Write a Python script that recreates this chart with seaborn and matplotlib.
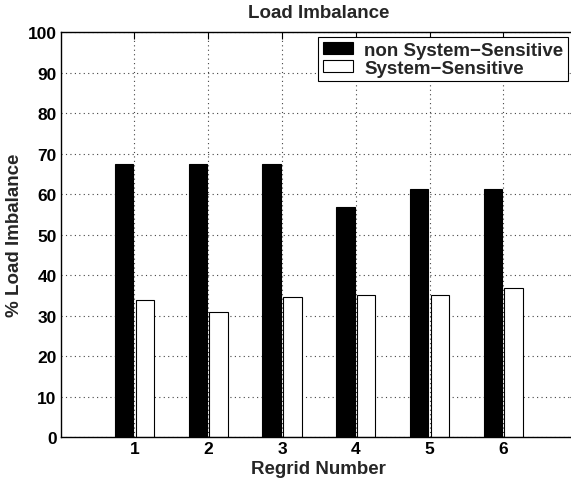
import matplotlib
matplotlib.use("Agg")
import matplotlib.pyplot as plt
import pandas as pd
import seaborn as sns

# values
regrids = [1, 2, 3, 4, 5, 6]
non_sensitive = [67.4, 67.4, 67.4, 56.9, 61.2, 61.2]
sensitive = [33.8, 30.8, 34.6, 35.0, 35.1, 36.8]
series_names = ["non System\u2212Sensitive", "System\u2212Sensitive"]
y_ticks = list(range(0, 101, 10))

df = pd.DataFrame({
    "regrid": regrids * 2,
    "imbalance": non_sensitive + sensitive,
    "scheme": [series_names[0]] * len(regrids) + [series_names[1]] * len(regrids),
})

sns.set_style("white")
plt.rcParams["font.family"] = ["Liberation Sans", "DejaVu Sans"]
plt.rcParams["font.weight"] = "bold"

fs = 13.5
fig = plt.figure(figsize=(5.71, 4.89), dpi=100)
ax = fig.add_axes([0.1063, 0.1043, 0.9045, 0.8276])

sns.barplot(data=df, x="regrid", y="imbalance", hue="scheme",
            palette=["black", "white"], native_scale=True,
            width=0.56, gap=0.107, edgecolor="black", linewidth=0.8,
            errorbar=None, ax=ax)

ax.set_xlim(0, 7)
ax.set_ylim(0, 100)
ax.set_xticks(regrids)
ax.set_yticks(y_ticks)
ax.grid(True, linestyle=(0, (1, 3)), color="#444444", linewidth=0.8)
ax.set_axisbelow(True)
for s in ax.spines.values():
    s.set_color("black")
    s.set_linewidth(1.0)
ax.tick_params(direction="in", length=5, width=0.8, top=True, right=True,
               labelsize=12.5, pad=3, colors="black")
for lab in ax.get_xticklabels() + ax.get_yticklabels():
    lab.set_fontweight("bold")

ax.set_title("Load Imbalance", fontsize=fs, fontweight="bold", pad=11)
ax.set_xlabel("Regrid Number", fontsize=fs, fontweight="bold", labelpad=2.5)
ax.set_ylabel("% Load Imbalance", fontsize=fs, fontweight="bold", labelpad=3)

leg = ax.legend(loc="upper right", bbox_to_anchor=(568 / 571, 1 - 38 / 489),
                bbox_transform=fig.transFigure, fancybox=False, framealpha=1,
                edgecolor="black", fontsize=fs, handlelength=1.6,
                handleheight=0.6, borderpad=0.25, labelspacing=0.05,
                handletextpad=0.6, borderaxespad=0)
leg.get_frame().set_linewidth(0.8)
for t in leg.get_texts():
    t.set_fontweight("bold")

fig.savefig("out.png", dpi=100)
